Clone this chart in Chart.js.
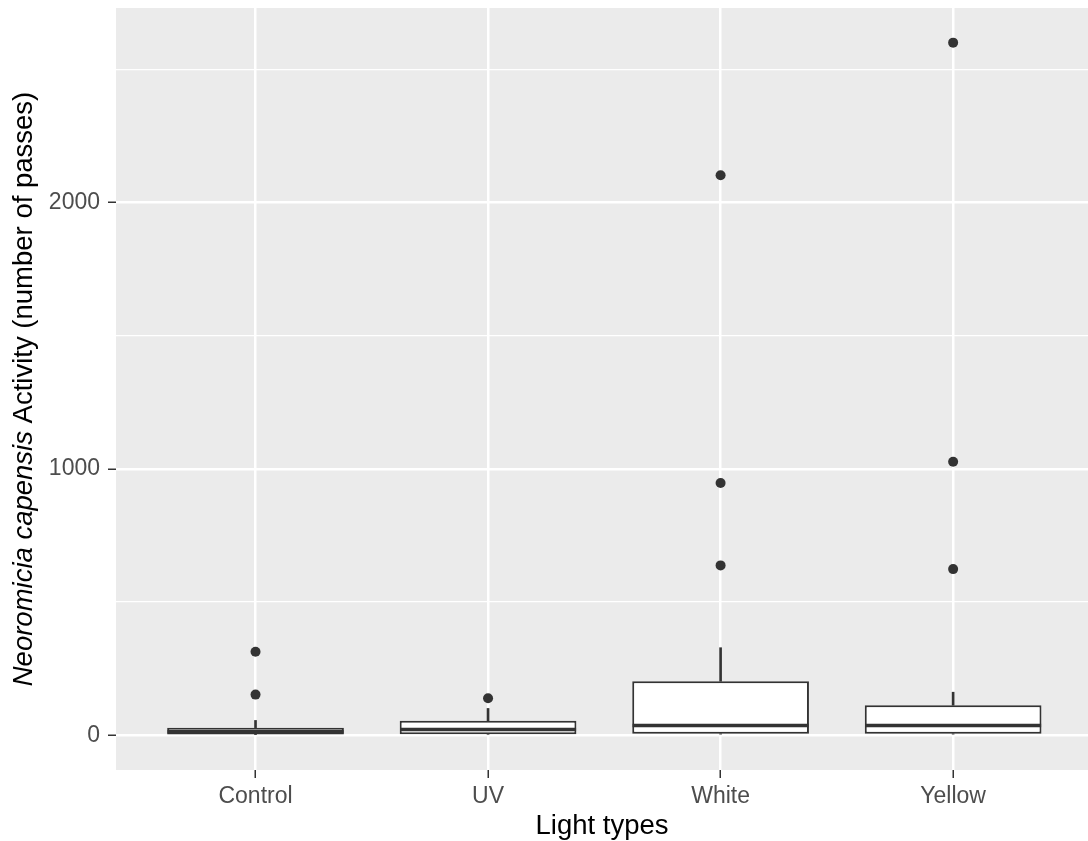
<!DOCTYPE html>
<html>
<head>
<meta charset="utf-8">
<title>Light types boxplot</title>
<script src="https://cdn.jsdelivr.net/npm/chart.js@4/dist/chart.umd.min.js"></script>
<style>
  html, body { margin: 0; padding: 0; background: #fff; }
  #wrap { width: 1088px; height: 841px; position: relative; }
</style>
</head>
<body>
<div id="wrap"><canvas id="canvas"></canvas></div>
<script>
// categories along the x axis (placed at 1..4 on a linear scale)
var LIGHTS = ['Control', 'UV', 'White', 'Yellow'];
var POS = [1, 2, 3, 4];

// five-number summaries per light type
var WHISK_LO = [0, 0, 0, 0];
var Q1 = [3, 4, 6, 6];
var MEDIAN = [14, 22, 37, 37];
var Q3 = [29, 55, 203, 113];
var WHISK_HI = [56, 101, 329, 162];

// outliers per light type
var OUTLIERS = [
  [153, 314],
  [139],
  [638, 947, 2102],
  [624, 1027, 2600]
];

// labelled y ticks and all y grid lines (minor ones in between)
var Y_TICKS = [0, 1000, 2000];
var Y_GRID = [0, 500, 1000, 1500, 2000, 2500];

var INK = '#333333';
var FONT = '"Liberation Sans", Arial, sans-serif';

function pts(vals) {
  return POS.map(function(p, i) { return {x: p, y: vals[i]}; });
}
function ranges(lo, hi) {
  return POS.map(function(p, i) { return {x: p, y: [lo[i], hi[i]]}; });
}
var outlierPts = [];
OUTLIERS.forEach(function(list, i) {
  list.forEach(function(v) { outlierPts.push({x: POS[i], y: v}); });
});

function isMajor(v) {
  return Y_TICKS.indexOf(v) >= 0;
}

// grey panel behind the grid
var panelBg = {
  id: 'panelBg',
  beforeDraw: function(chart) {
    var a = chart.chartArea, ctx = chart.ctx;
    ctx.save();
    ctx.fillStyle = '#EBEBEB';
    ctx.fillRect(a.left, a.top, a.right - a.left, a.bottom - a.top);
    ctx.restore();
  }
};

// y axis title, species name in italics
var yTitle = {
  id: 'yTitle',
  afterDraw: function(chart) {
    var a = chart.chartArea, ctx = chart.ctx;
    var parts = [
      {t: 'Neoromicia capensis', f: 'italic 27.5px ' + FONT},
      {t: ' Activity (number of passes)', f: '27.5px ' + FONT}
    ];
    ctx.save();
    var total = 0;
    parts.forEach(function(p) { ctx.font = p.f; p.w = ctx.measureText(p.t).width; total += p.w; });
    ctx.translate(24, (a.top + a.bottom) / 2);
    ctx.rotate(-Math.PI / 2);
    ctx.fillStyle = '#000';
    ctx.textBaseline = 'middle';
    ctx.textAlign = 'left';
    var x = -total / 2;
    parts.forEach(function(p) { ctx.font = p.f; ctx.fillText(p.t, x, 0); x += p.w; });
    ctx.restore();
  }
};

window.onload = function() {
  var ctx = document.getElementById('canvas').getContext('2d');
  window.myBox = new Chart(ctx, {
    type: 'bar',
    data: {
      datasets: [
        {
          type: 'scatter',
          label: 'outliers',
          data: outlierPts,
          pointRadius: 5,
          pointBorderWidth: 0,
          pointBackgroundColor: INK
        },
        {
          type: 'scatter',
          label: 'median',
          data: pts(MEDIAN),
          pointStyle: 'line',
          pointRadius: 88,
          pointBorderWidth: 3.5,
          pointBorderColor: INK
        },
        {
          type: 'bar',
          label: 'box',
          data: ranges(Q1, Q3),
          grouped: false,
          categoryPercentage: 1,
          barPercentage: 0.76,
          backgroundColor: '#FFFFFF',
          borderColor: INK,
          borderWidth: 2,
          borderSkipped: false
        },
        {
          type: 'bar',
          label: 'upper whisker',
          data: ranges(Q3, WHISK_HI),
          grouped: false,
          barThickness: 2,
          backgroundColor: INK,
          borderWidth: 0
        },
        {
          type: 'bar',
          label: 'lower whisker',
          data: ranges(WHISK_LO, Q1),
          grouped: false,
          barThickness: 2,
          backgroundColor: INK,
          borderWidth: 0
        }
      ]
    },
    options: {
      responsive: true,
      maintainAspectRatio: false,
      animation: false,
      layout: { autoPadding: false, padding: { top: 8, right: 0, bottom: 0, left: 0 } },
      plugins: {
        legend: { display: false },
        tooltip: { enabled: false }
      },
      scales: {
        x: {
          type: 'linear',
          min: 0.4,
          max: 4.58,
          offset: false,
          afterBuildTicks: function(s) {
            s.ticks = POS.map(function(v) { return {value: v}; });
          },
          afterFit: function(s) {
            s.height = 71;
            s.paddingLeft = 0;
            s.paddingRight = 0;
          },
          border: { display: false },
          grid: {
            offset: false,
            color: '#FFFFFF',
            lineWidth: 2.5,
            drawTicks: true,
            tickLength: 8,
            tickColor: INK,
            tickWidth: 1.5
          },
          ticks: {
            autoSkip: false,
            padding: 5,
            color: '#4D4D4D',
            font: { family: FONT, size: 23 },
            callback: function(v) { return LIGHTS[POS.indexOf(v)] || ''; }
          },
          title: {
            display: true,
            text: 'Light types',
            color: '#000000',
            font: { family: FONT, size: 27.5, lineHeight: 1 },
            padding: { top: 0, bottom: 1 }
          }
        },
        y: {
          type: 'linear',
          min: -130,
          max: 2730,
          offset: false,
          beginAtZero: false,
          afterBuildTicks: function(s) {
            s.ticks = Y_GRID.map(function(v) { return {value: v}; });
          },
          afterFit: function(s) {
            s.width = 116;
            s.paddingTop = 0;
            s.paddingBottom = 0;
          },
          border: { display: false },
          grid: {
            offset: false,
            color: '#FFFFFF',
            lineWidth: function(c) { return c.tick && isMajor(c.tick.value) ? 2.5 : 1.3; },
            drawTicks: true,
            tickLength: 8,
            tickColor: function(c) { return c.tick && isMajor(c.tick.value) ? INK : 'rgba(0,0,0,0)'; },
            tickWidth: 1.5
          },
          ticks: {
            autoSkip: false,
            padding: 8,
            color: '#4D4D4D',
            font: { family: FONT, size: 23 },
            callback: function(v) { return isMajor(v) ? String(v) : ''; }
          }
        }
      }
    },
    plugins: [panelBg, yTitle]
  });
};
</script>
</body>
</html>
